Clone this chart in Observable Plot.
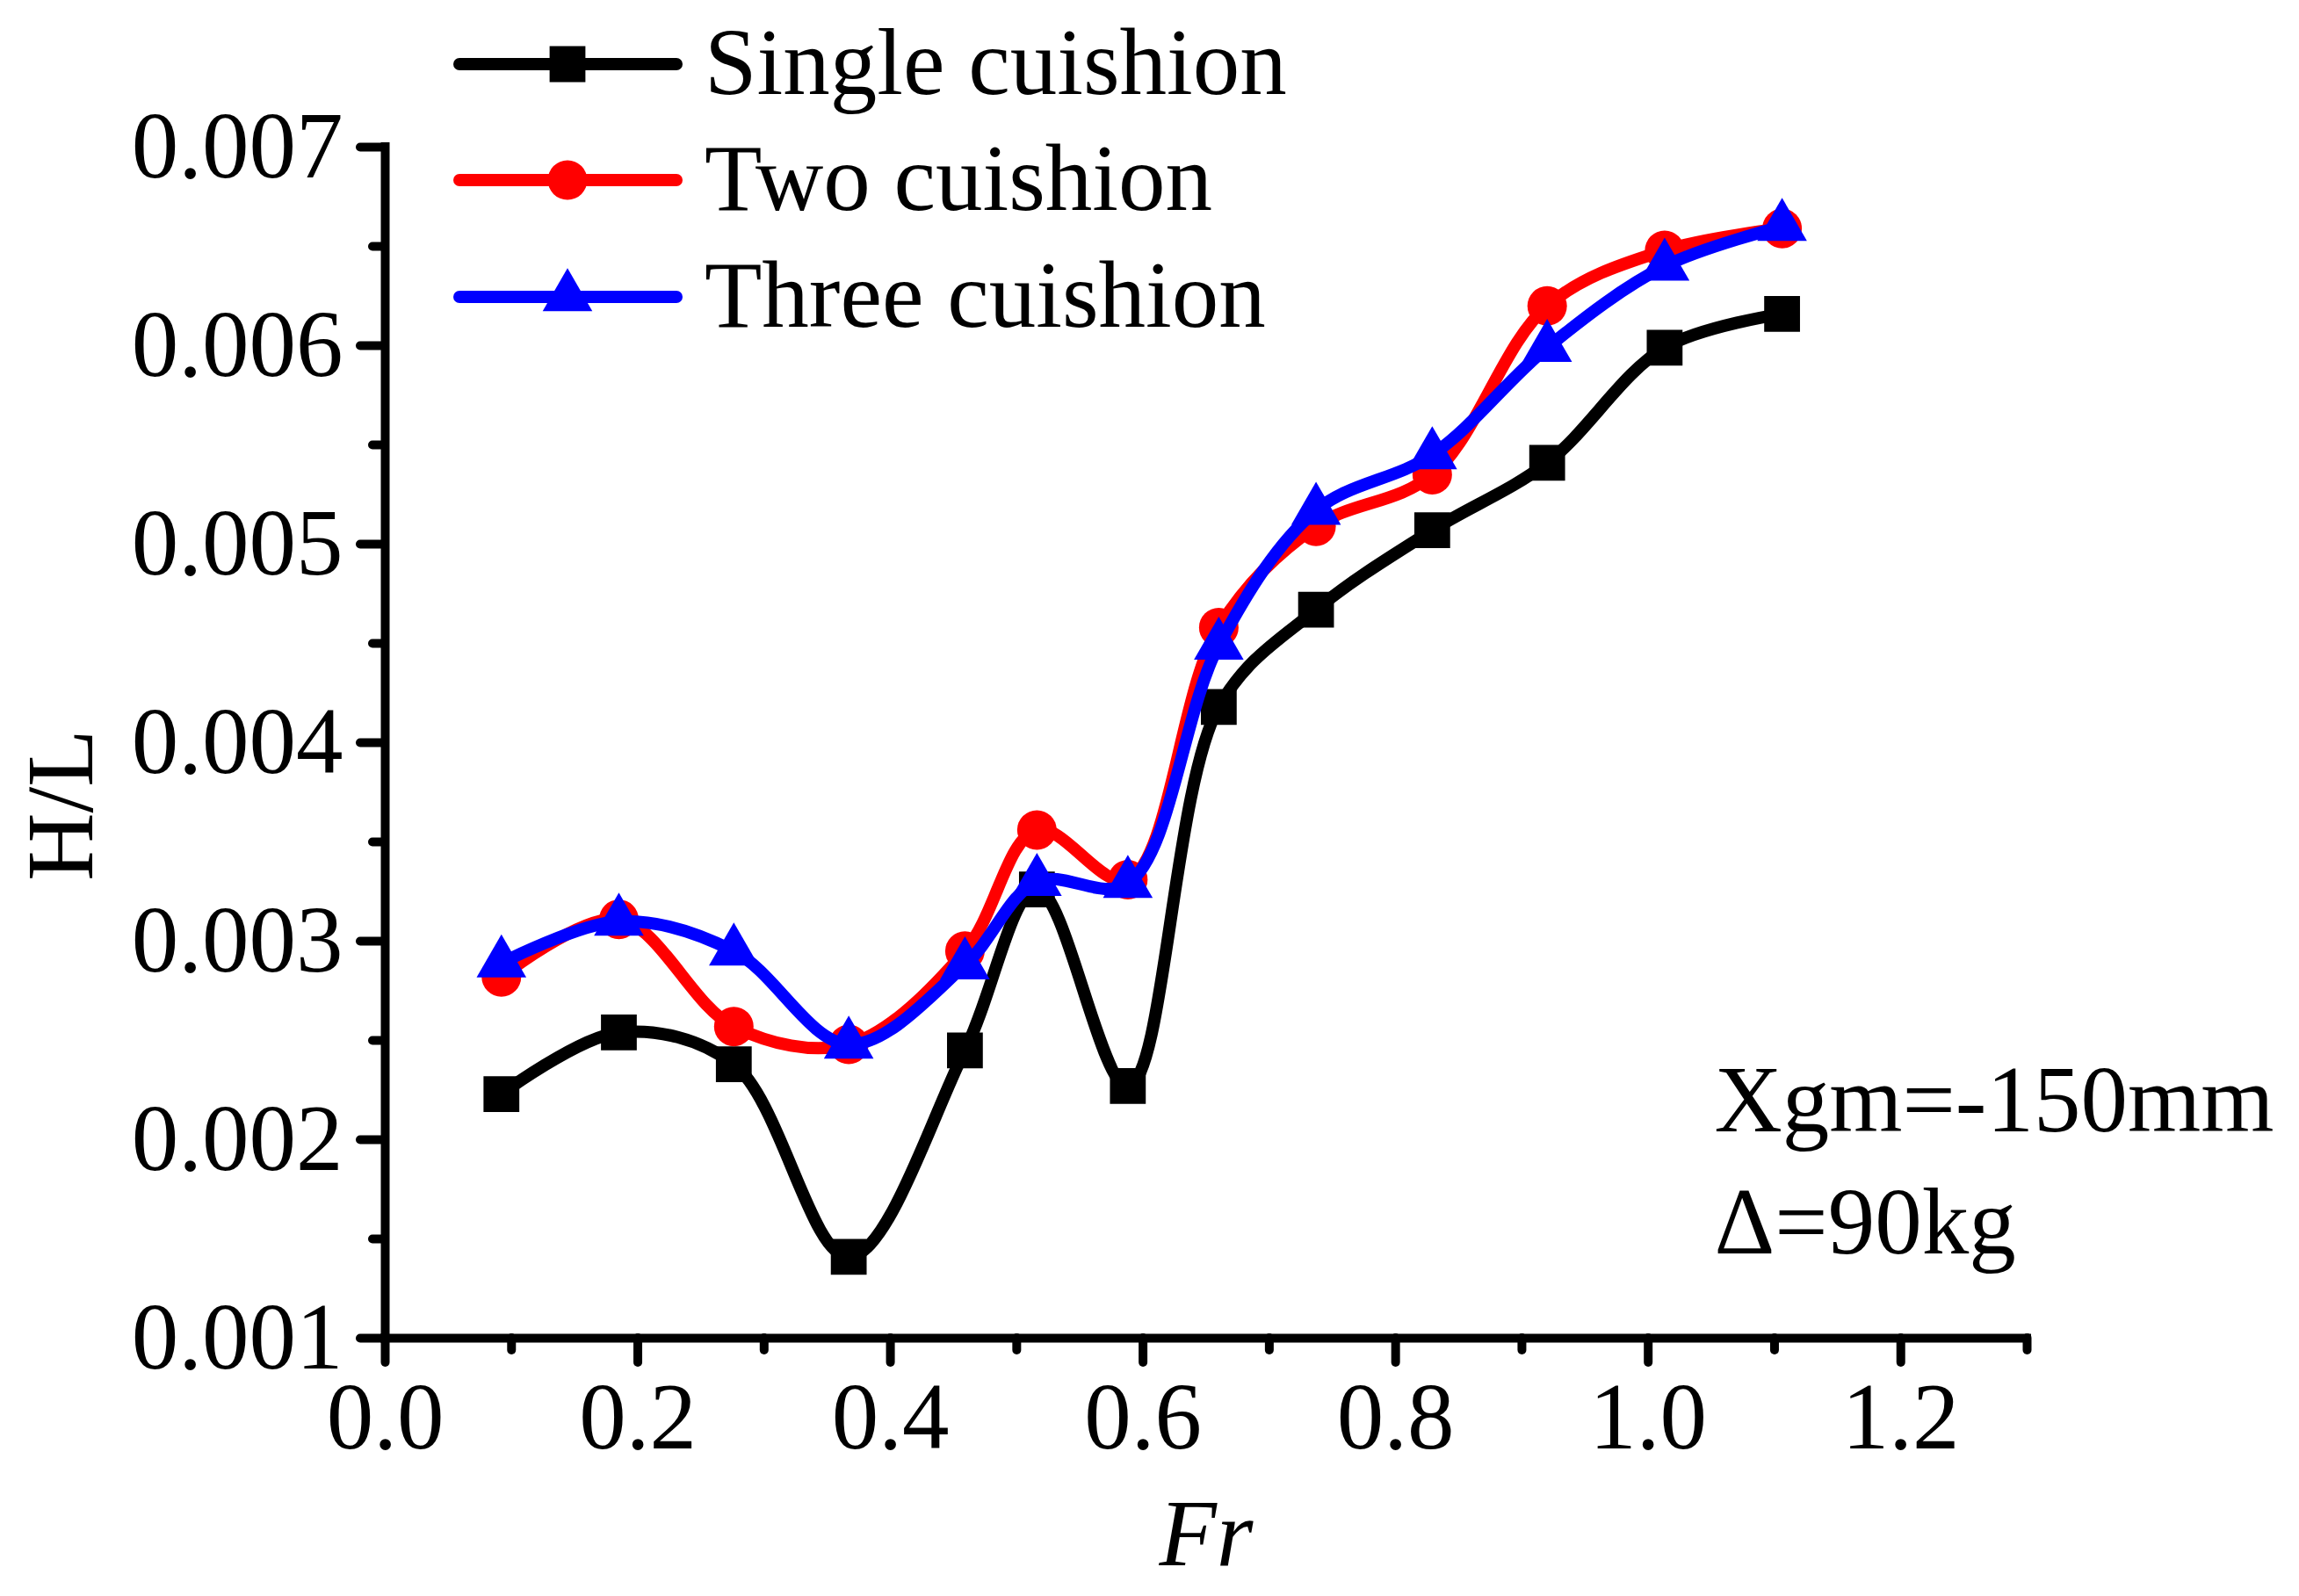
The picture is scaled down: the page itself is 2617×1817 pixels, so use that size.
<!DOCTYPE html>
<html>
<head>
<meta charset="utf-8">
<script src="https://cdn.jsdelivr.net/npm/d3@7"></script>
<script src="https://cdn.jsdelivr.net/npm/@observablehq/plot@0.6"></script>
<style>
  html, body { margin: 0; padding: 0; background: white; }
  #wrap { position: relative; width: 2617px; height: 1817px; }
  #legend { position: absolute; left: 0; top: 0; pointer-events: none; overflow: visible; }
</style>
</head>
<body>
<div id="wrap"></div>
<script>
// ---- data ----
const fr = [0.092, 0.185, 0.276, 0.367, 0.459, 0.516, 0.588, 0.660, 0.737, 0.829, 0.920, 1.013, 1.106];
const single = [0.00223, 0.00254, 0.00238, 0.00141, 0.00245, 0.00326, 0.00227, 0.00418, 0.00467, 0.00507, 0.00541, 0.00599, 0.00616];
const two    = [0.00282, 0.00311, 0.00257, 0.00248, 0.00295, 0.00356, 0.00331, 0.00458, 0.00509, 0.00535, 0.00620, 0.00648, 0.00659];
const three  = [0.00289, 0.00310, 0.00295, 0.00248, 0.00288, 0.00330, 0.00329, 0.00449, 0.00517, 0.00545, 0.00599, 0.00640, 0.00660];
const seriesNames = ["Single cuishion", "Two cuishion", "Three cuishion"];
const seriesColors = ["#000000", "#ff0000", "#0000ff"];
const seriesSymbols = ["square", "circle", "triangle"];
const yMajor = [0.001, 0.002, 0.003, 0.004, 0.005, 0.006, 0.007];
const yMinor = [0.0015, 0.0025, 0.0035, 0.0045, 0.0055, 0.0065];
const xMajor = [0.0, 0.2, 0.4, 0.6, 0.8, 1.0, 1.2];
const xMinor = [0.1, 0.3, 0.5, 0.7, 0.9, 1.1, 1.3];
const annotations = ["Xgm=-150mm", "Δ=90kg"];

const seriesValues = [single, two, three];
const rows = seriesNames.map((name, k) => fr.map((x, i) => ({fr: x, hl: seriesValues[k][i], series: name})));

const FONT = "'Liberation Serif', 'Times New Roman', serif";
const FS = 107;
const symR = {square: 23, circle: 22.5, triangle: 21};

const seriesMarks = [];
rows.forEach((data, k) => {
  seriesMarks.push(Plot.line(data, {x: "fr", y: "hl", curve: "catmull-rom", stroke: seriesColors[k], strokeWidth: 14}));
  seriesMarks.push(Plot.dot(data, {x: "fr", y: "hl", symbol: seriesSymbols[k], r: symR[seriesSymbols[k]], fill: seriesColors[k], stroke: "none"}));
});

const chart = Plot.plot({
  width: 2617,
  height: 1817,
  marginLeft: 438,
  marginRight: 310,
  marginTop: 167,
  marginBottom: 294,
  style: {fontFamily: FONT, background: "white", color: "black"},
  x: {domain: [0, 1.3]},
  y: {domain: [0.001, 0.007]},
  marks: [
    Plot.axisY({ticks: yMinor, tickSize: 14, strokeWidth: 10, strokeLinecap: "round", tickFormat: () => "", label: null}),
    Plot.axisY({ticks: yMajor, tickSize: 28, tickPadding: 20, strokeWidth: 10, strokeLinecap: "round", tickFormat: d3.format(".3f"), fontSize: FS, fontFamily: FONT, label: null}),
    Plot.axisX({ticks: xMinor, tickSize: 14, strokeWidth: 10, strokeLinecap: "round", tickFormat: () => "", label: null}),
    Plot.axisX({ticks: xMajor, tickSize: 28, tickPadding: 22, strokeWidth: 10, strokeLinecap: "round", tickFormat: d3.format(".1f"), fontSize: FS, fontFamily: FONT, label: null}),
    Plot.ruleX([0], {y1: 0.001, y2: 0.007, strokeWidth: 10, strokeLinecap: "square"}),
    Plot.ruleY([0.001], {x1: 0, x2: 1.3, strokeWidth: 10, strokeLinecap: "square"}),
    ...seriesMarks,
    Plot.text(["H/L"], {frameAnchor: "left", rotate: -90, dx: 70 - 438, dy: 71, fontSize: FS, fontFamily: FONT, textAnchor: "middle", lineAnchor: "middle"}),
    Plot.text(["Fr"], {frameAnchor: "bottom", dy: 224, fontSize: FS, fontFamily: FONT, fontStyle: "italic", textAnchor: "middle", lineAnchor: "middle"}),
    Plot.text([annotations[0]], {frameAnchor: "top-left", dx: 1513, dy: 1086, fontSize: FS, fontFamily: FONT, textAnchor: "start", lineAnchor: "middle"}),
    Plot.text([annotations[1]], {frameAnchor: "top-left", dx: 1513, dy: 1225, fontSize: FS, fontFamily: FONT, textAnchor: "start", lineAnchor: "middle"})
  ]
});

const wrap = document.getElementById("wrap");
wrap.appendChild(chart);

// ---- legend overlay ----
const legend = d3.select(wrap).append("svg")
  .attr("id", "legend")
  .attr("width", 2617).attr("height", 420);
const rowY = [73, 205, 338];
const symbolTypes = {square: d3.symbolSquare, circle: d3.symbolCircle, triangle: d3.symbolTriangle};
seriesNames.forEach((name, k) => {
  const g = legend.append("g").attr("transform", `translate(0,${rowY[k]})`);
  g.append("line").attr("x1", 523).attr("x2", 770).attr("y1", 0).attr("y2", 0)
    .attr("stroke", seriesColors[k]).attr("stroke-width", 14).attr("stroke-linecap", "round");
  const r = symR[seriesSymbols[k]];
  g.append("path").attr("transform", "translate(646,0)")
    .attr("d", d3.symbol(symbolTypes[seriesSymbols[k]], r * r * Math.PI)())
    .attr("fill", seriesColors[k]);
  g.append("text").attr("x", 802).attr("y", 34)
    .attr("font-family", FONT).attr("font-size", FS).attr("fill", "black")
    .text(name);
});
</script>
</body>
</html>
